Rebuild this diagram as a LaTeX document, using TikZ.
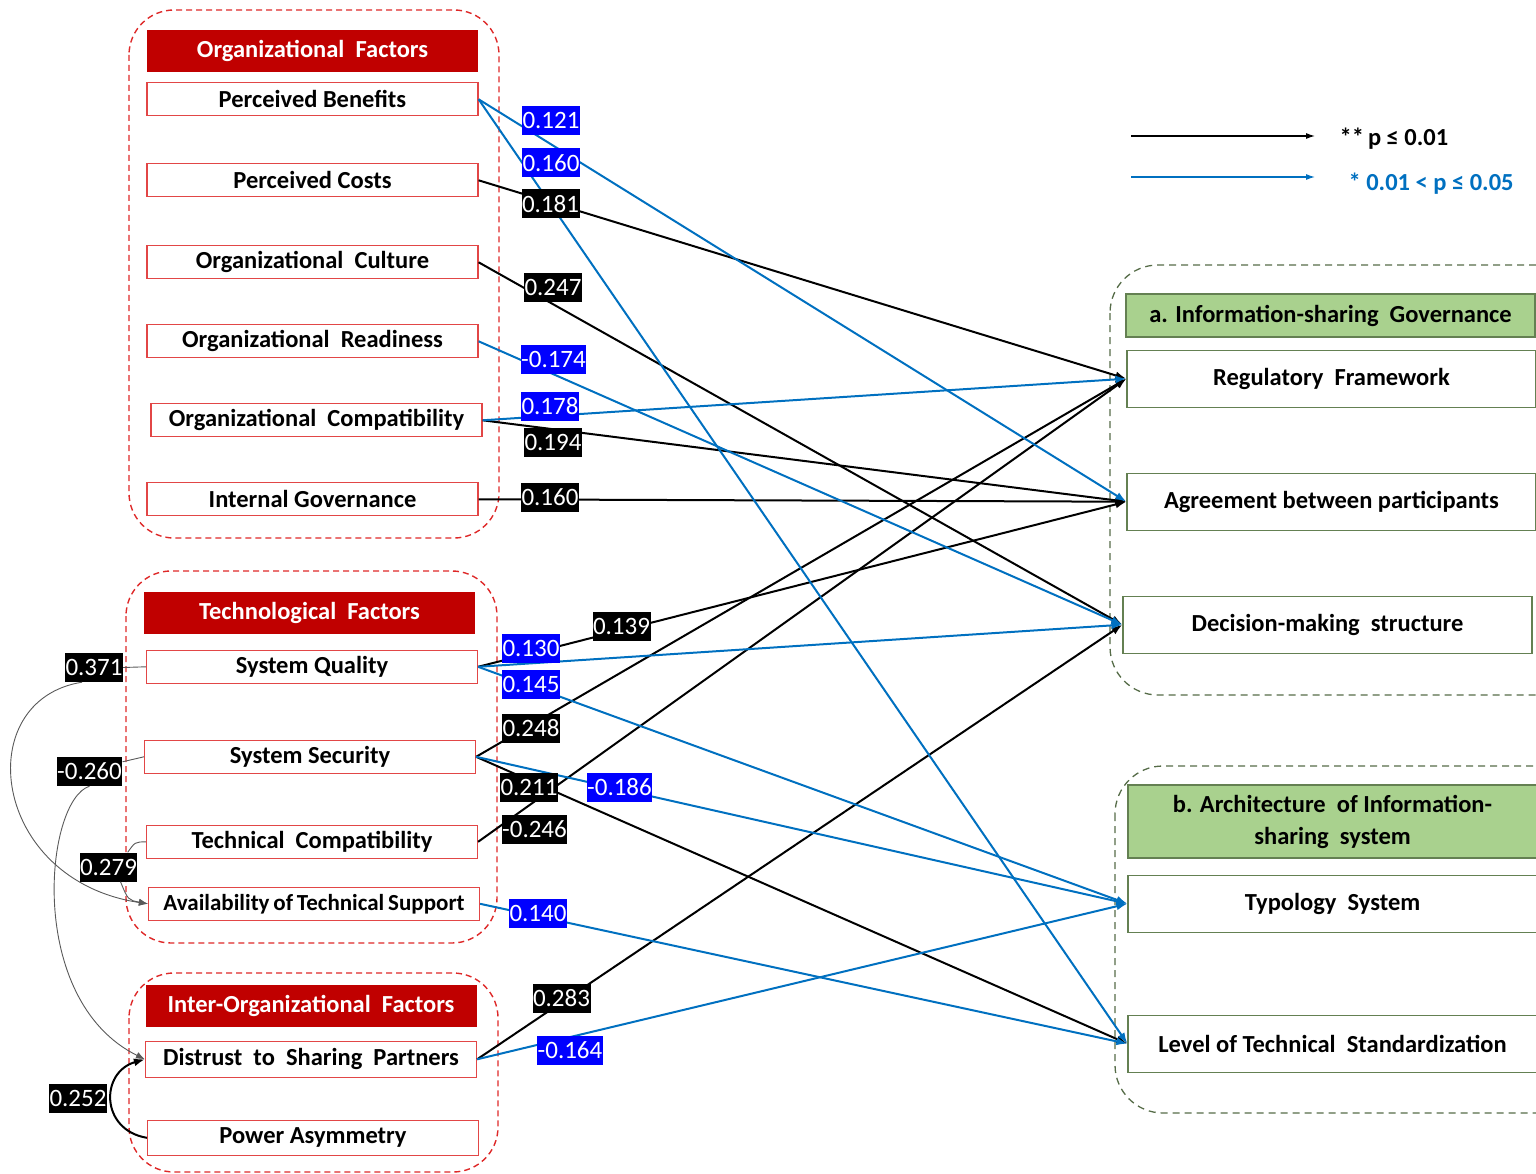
\documentclass[tikz,border=0pt]{standalone}
\usepackage{fontspec}
\setmainfont{Carlito}
\usetikzlibrary{arrows.meta,positioning}

\definecolor{hdrred}{RGB}{192,0,0}
\definecolor{boxred}{RGB}{226,70,70}
\definecolor{grpred}{RGB}{222,40,40}
\definecolor{hdrgreen}{RGB}{169,209,142}
\definecolor{boxgreen}{RGB}{100,128,82}
\definecolor{grpgreen}{RGB}{86,108,72}
\definecolor{sigblue}{RGB}{0,112,192}
\definecolor{labblue}{RGB}{0,0,255}

\tikzset{
  hdr/.style={fill=hdrred, text=white, font=\bfseries\fontsize{24.5}{29}\selectfont,
    minimum width=331pt, minimum height=42pt, inner sep=0pt},
  item/.style={draw=boxred, line width=1.2pt, fill=white, font=\bfseries\fontsize{24.5}{29}\selectfont,
    minimum width=331pt, minimum height=33pt, inner sep=0pt},
  ghdr/.style={draw=boxgreen, line width=1.2pt, fill=hdrgreen, font=\bfseries\fontsize{24.5}{32}\selectfont,
    minimum width=409pt, minimum height=43pt, inner sep=0pt, align=center},
  outc/.style={draw=boxgreen, line width=1.2pt, fill=white, font=\bfseries\fontsize{24.5}{29}\selectfont,
    minimum width=409pt, minimum height=57pt, inner sep=0pt},
  coef/.style={fill=black, text=white, font=\fontsize{25}{29}\selectfont,
    inner xsep=0.5pt, inner ysep=0pt, minimum height=29pt},
  bcoef/.style={coef, fill=labblue},
  sig/.style={line width=2pt, black},
  wsig/.style={line width=2pt, sigblue},
  corr/.style={line width=0.9pt, black!65},
  redgrp/.style={draw=grpred, line width=1.4pt, dash pattern=on 6pt off 4pt, rounded corners=45pt},
  greengrp/.style={draw=grpgreen, line width=1.3pt, dash pattern=on 7pt off 5pt, rounded corners=48pt}
}

\begin{document}
\begin{tikzpicture}[x=1pt, y=-1pt, >={Latex[length=11pt,width=8pt]}]
\useasboundingbox (0,0) rectangle (1536,1174);

% groups
\draw[redgrp] (129,10) rectangle (499,538);
\draw[redgrp] (126,571) rectangle (497,943);
\draw[redgrp] (129,973) rectangle (498,1172);
\draw[greengrp] (1110,265) rectangle (1590,695);
\draw[greengrp] (1115,766) rectangle (1590,1113);

% organizational factors
\node[hdr] (orgh) at (312.5,51) {Organizational~~Factors};
\node[item, below=10pt of orgh] (pb) {Perceived Benefits};
\node[item, below=46.8pt of pb] (pc) {Perceived Costs};
\node[item, below=47.8pt of pc] (oc) {Organizational~~Culture};
\node[item, below=44.8pt of oc] (ord) {Organizational~~Readiness};
\node[item, below=44.8pt of ord, xshift=4pt] (ocp) {Organizational~~Compatibility};
\node[item, below=44.8pt of ocp, xshift=-4pt] (ig) {Internal Governance};

% technological factors
\node[hdr] (techh) at (309.5,612.5) {Technological~~Factors};
\node[item, below=16pt of techh, xshift=2.5pt] (sq) {System Quality};
\node[item, below=55.8pt of sq, xshift=-2pt] (ss) {System Security};
\node[item, below=50.8pt of ss, xshift=2pt] (tc) {Technical~~Compatibility};
\node[item, below=27.8pt of tc, xshift=2pt, font=\bfseries\fontsize{23}{28}\selectfont] (ats) {Availability\,of\,Technical\,Support};

% inter-organizational factors
\node[hdr] (interh) at (311,1005.5) {Inter-Organizational~~Factors};
\node[item, below=14pt of interh, minimum height=36pt] (dsp) {Distrust~~to~~Sharing~~Partners};
\node[item, below=41.8pt of dsp, xshift=2pt, minimum height=35pt] (pa) {Power Asymmetry};

% outcomes
\node[ghdr] (govh) at (1330.5,315.5) {a. Information-sharing~~Governance};
\node[outc, below=12pt of govh, xshift=1pt] (rf) {Regulatory~~Framework};
\node[outc, below=64.8pt of rf] (ap) {Agreement between participants};
\node[outc, below=64.8pt of ap, xshift=-4pt] (dms) {Decision-making~~structure};
\node[ghdr, minimum height=73pt] (archh) at (1332.5,821.5) {b. Architecture~~of Information-\\sharing~~system};
\node[outc, below=16pt of archh] (ts) {Typology~~System};
\node[outc, below=81.8pt of ts] (lts) {Level of Technical~~Standardization};

% paths
\path[->, sig]
(pc.east) edge (rf.west)
(oc.east) edge (dms.west)
(ocp.east) edge (ap.west)
(ig.east) edge (ap.west)
(sq.east) edge (ap.west)
(ss.east) edge (rf.west)
(ss.east) edge (lts.west)
(tc.east) edge (rf.west)
(dsp.east) edge (dms.west);

\path[->, wsig]
(pb.east) edge (ap.west)
(pb.east) edge (lts.west)
(ord.east) edge (dms.west)
(ocp.east) edge (rf.west)
(sq.east) edge (dms.west)
(sq.east) edge (ts.west)
(ss.east) edge (ts.west)
(ats.east) edge (lts.west)
(dsp.east) edge (ts.west);

% coefficients
\node[bcoef] (c1) at (551,120.5) {0.121};
\node[bcoef] (c2) at (551,163) {0.160};
\node[coef] (c3) at (550.5,204) {0.181};
\node[coef] (c4) at (553,287.5) {0.247};
\node[bcoef] (c5) at (553.5,359.5) {-0.174};
\node[bcoef] (c6) at (550,406.5) {0.178};
\node[coef] (c7) at (553,442.5) {0.194};
\node[coef] (c8) at (550,497) {0.160};
\node[coef] (c9) at (621.5,626) {0.139};
\node[bcoef] (c10) at (531,648.5) {0.130};
\node[bcoef] (c11) at (531,684.5) {0.145};
\node[coef] (c12) at (531,728.5) {0.248};
\node[coef] (c13) at (529,787) {0.211};
\node[bcoef] (c14) at (619.5,787) {-0.186};
\node[coef] (c15) at (534.5,829.5) {-0.246};
\node[bcoef] (c16) at (538,913) {0.140};
\node[coef] (c17) at (561.5,998.5) {0.283};
\node[bcoef] (c18) at (570,1050) {-0.164};

% correlations
\node[coef] (r1) at (94,667.5) {0.371};
\node[coef] (r2) at (89.5,771.5) {-0.260};
\node[coef] (r3) at (108.5,867) {0.279};
\node[coef] (r4) at (78,1098) {0.252};

\draw[corr] (sq.west) -- (r1.east);
\draw[corr, ->, >={Latex[length=9pt,width=7pt]}] ([xshift=-12pt]r1.south) .. controls (-30,700) and (-10,880) .. (ats.west);
\draw[corr] (ss.west) -- ([yshift=-5pt]r2.north east);
\draw[corr, ->, >={Latex[length=9pt,width=7pt]}] (r2.south) .. controls (45,800) and (25,1000) .. (dsp.west);
\draw[corr] (tc.west) .. controls (135,842) .. ([xshift=-10pt]r3.north east);
\draw[corr, ->, >={Latex[length=9pt,width=7pt]}] ([xshift=12pt]r3.south) .. controls (128,900) .. (ats.west);
\draw[->, line width=2pt] (pa.west) .. controls (100,1130) and (100,1072) .. (dsp.west);

% key
\coordinate (k1) at (1131,136);
\coordinate (k2) at (1315,136);
\coordinate (k3) at (1131,177);
\coordinate (k4) at (1315,177);
\draw[->, line width=1.2pt, >={Latex[length=9pt,width=6pt]}] (k1) -- (k2);
\draw[->, line width=1.2pt, sigblue, >={Latex[length=9pt,width=6pt]}] (k3) -- (k4);
\node[font=\bfseries\fontsize{24.5}{29}\selectfont, anchor=west] (key1) at (1336,139) {**\,p ≤ 0.01};
\node[font=\bfseries\fontsize{24.5}{29}\selectfont, anchor=west, text=sigblue] (key2) at (1345,184) {* 0.01 < p ≤ 0.05};
\end{tikzpicture}
\end{document}
